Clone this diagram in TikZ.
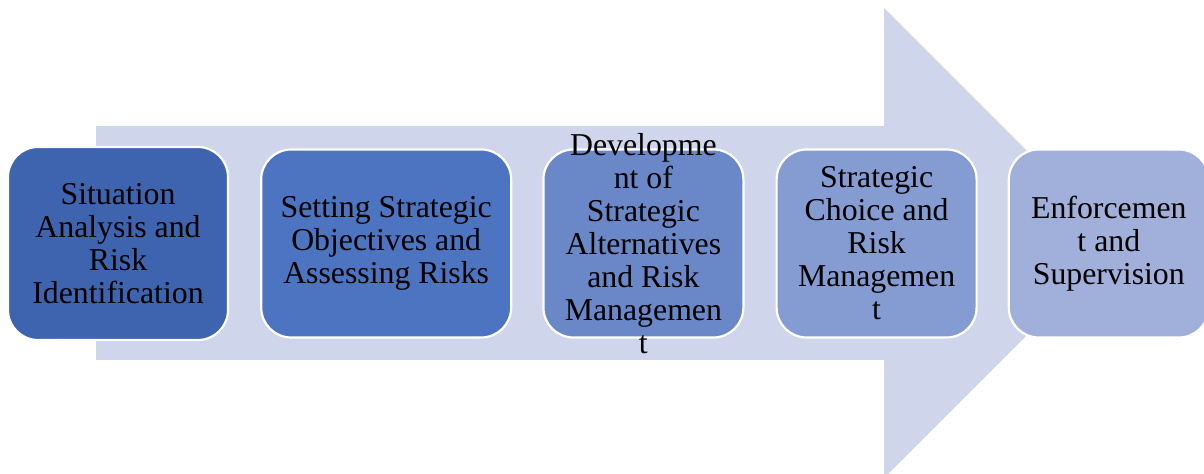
\documentclass[tikz,border=0pt]{standalone}
\usepackage{fontspec}
\setmainfont{Liberation Serif}
\usetikzlibrary{positioning}
\definecolor{flowbg}{RGB}{207,213,234}
\definecolor{stageone}{RGB}{62,100,175}
\definecolor{stagetwo}{RGB}{76,116,192}
\definecolor{stagethree}{RGB}{106,136,199}
\definecolor{stagefour}{RGB}{132,156,210}
\definecolor{stagefive}{RGB}{160,176,218}

\begin{document}
\begin{tikzpicture}[
  x=0.5pt,y=-0.5pt,
  every node/.style={font=\fontsize{15.9pt}{16.5pt}\selectfont},
  stage/.style={draw=white,line width=1.1pt,rounded corners=15pt,minimum width=100pt,minimum height=94pt,align=center,inner sep=0pt},
  stagetext/.style={align=center,inner sep=0pt}
]
\useasboundingbox (0,0) rectangle (1204,474);
\clip (0,0) rectangle (1204,474);
% big arrow behind the stages
\fill[flowbg] (96,126) -- (884,126) -- (884,8) -- (1119,243) -- (884,478) -- (884,360) -- (96,360) -- cycle;

\node[stage,fill=stageone,minimum width=110pt,minimum height=96.5pt] (situation) at (118,243.5) {Situation\\Analysis and\\Risk\\Identification};
\node[stage,fill=stagetwo,minimum width=125pt,right=15.5pt of situation] (objectives) {Setting Strategic\\Objectives and\\Assessing Risks};
\node[stage,fill=stagethree,right=15pt of objectives,label={[stagetext]center:Developme\\nt of\\Strategic\\Alternatives\\and Risk\\Managemen\\t}] (alternatives) {};
\node[stage,fill=stagefour,right=15.5pt of alternatives] (choice) {Strategic\\Choice and\\Risk\\Managemen\\t};
\node[stage,fill=stagefive,right=15pt of choice] (enforcement) {Enforcemen\\t and\\Supervision};
\end{tikzpicture}
\end{document}
